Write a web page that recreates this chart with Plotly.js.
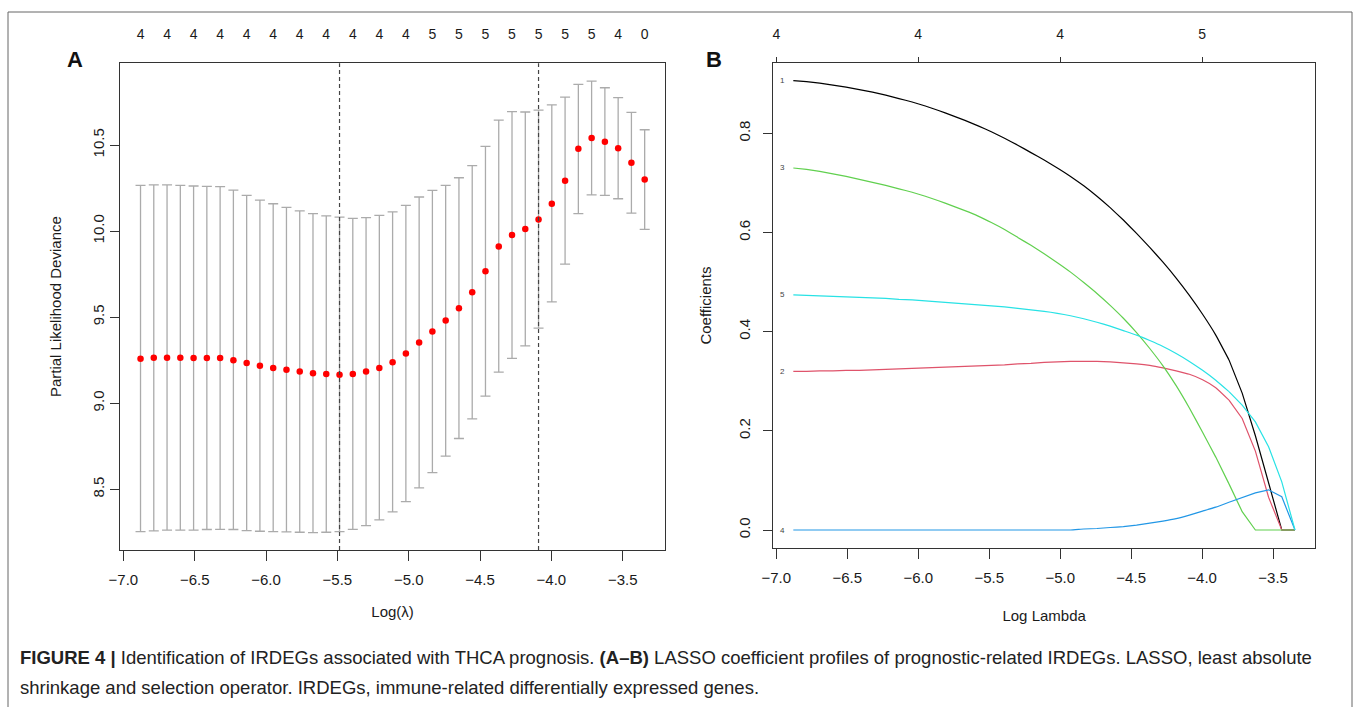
<!DOCTYPE html>
<html><head><meta charset="utf-8">
<script src="https://cdn.plot.ly/plotly-3.0.1.min.js"></script>
<style>html,body{margin:0;padding:0;background:#fff}#chart{width:1355px;height:707px}</style>
</head><body><div id="chart"></div>
<script>
// ---- data ----
const logLambda = [-6.880,-6.787,-6.694,-6.601,-6.508,-6.415,-6.322,-6.229,-6.136,-6.043,-5.950,-5.857,-5.764,-5.671,-5.578,-5.485,-5.392,-5.299,-5.206,-5.113,-5.020,-4.927,-4.834,-4.741,-4.648,-4.555,-4.462,-4.369,-4.276,-4.183,-4.090,-3.997,-3.904,-3.811,-3.718,-3.625,-3.532,-3.439,-3.346];
const cvMean  = [9.258,9.264,9.264,9.264,9.262,9.262,9.262,9.250,9.233,9.217,9.205,9.194,9.184,9.174,9.169,9.165,9.170,9.184,9.205,9.238,9.289,9.353,9.417,9.480,9.551,9.644,9.766,9.911,9.977,10.012,10.068,10.159,10.293,10.479,10.541,10.519,10.481,10.397,10.300];
const cvUpper = [10.266,10.269,10.269,10.266,10.262,10.260,10.258,10.238,10.207,10.180,10.159,10.138,10.118,10.101,10.089,10.081,10.074,10.078,10.091,10.112,10.149,10.198,10.237,10.266,10.310,10.380,10.492,10.645,10.694,10.692,10.703,10.733,10.779,10.853,10.872,10.833,10.775,10.690,10.589];
const cvLower = [8.254,8.258,8.262,8.262,8.263,8.266,8.267,8.266,8.260,8.256,8.254,8.252,8.250,8.248,8.250,8.254,8.267,8.289,8.322,8.368,8.428,8.508,8.597,8.692,8.795,8.909,9.041,9.180,9.260,9.333,9.436,9.589,9.808,10.101,10.211,10.207,10.188,10.105,10.010];
const nonzeroCount = [4,4,4,4,4,4,4,4,4,4,4,4,4,4,4,4,4,4,4,4,4,4,5,5,5,5,5,5,5,5,5,5,5,5,5,4,4,2,0];
const lambdaMinIdx = 15;   // lambda.min
const lambda1seIdx = 30;   // lambda.1se

const geneIds = ['1','2','3','4','5'];
const coef1 = [0.906,0.904,0.901,0.897,0.893,0.888,0.883,0.877,0.870,0.863,0.855,0.846,0.836,0.826,0.815,0.803,0.790,0.776,0.761,0.746,0.730,0.713,0.694,0.673,0.650,0.625,0.598,0.570,0.540,0.508,0.473,0.435,0.393,0.343,0.276,0.190,0.095,0.000,0.000];
const coef2 = [0.320,0.320,0.321,0.321,0.322,0.322,0.323,0.324,0.325,0.326,0.327,0.328,0.329,0.330,0.331,0.332,0.333,0.335,0.336,0.338,0.339,0.340,0.340,0.340,0.339,0.337,0.335,0.332,0.327,0.321,0.314,0.303,0.287,0.262,0.225,0.159,0.066,0.000,0.000];
const coef3 = [0.730,0.727,0.723,0.718,0.713,0.707,0.701,0.695,0.688,0.681,0.673,0.664,0.654,0.644,0.633,0.620,0.606,0.590,0.574,0.557,0.539,0.520,0.499,0.477,0.453,0.427,0.398,0.366,0.331,0.291,0.246,0.197,0.147,0.093,0.037,0.000,0.000,0.000,0.000];
const coef4 = [0.000,0.000,0.000,0.000,0.000,0.000,0.000,0.000,0.000,0.000,0.000,0.000,0.000,0.000,0.000,0.000,0.000,0.000,0.000,0.000,0.000,0.000,0.002,0.003,0.005,0.007,0.010,0.014,0.018,0.023,0.030,0.038,0.046,0.056,0.065,0.075,0.081,0.067,0.000];
const coef5 = [0.474,0.473,0.472,0.471,0.470,0.469,0.468,0.467,0.465,0.464,0.462,0.460,0.458,0.456,0.454,0.452,0.450,0.447,0.444,0.441,0.437,0.432,0.426,0.419,0.411,0.402,0.393,0.382,0.370,0.356,0.340,0.322,0.302,0.279,0.252,0.218,0.168,0.097,0.000];
const coefTopTicks = [-7,-6,-5,-4];
const coefTopLabels = ['4','4','4','5'];

const captionLine1 = '<b>FIGURE 4 |</b> Identification of IRDEGs associated with THCA prognosis. <b>(A–B)</b> LASSO coefficient profiles of prognostic-related IRDEGs. LASSO, least absolute';
const captionLine2 = 'shrinkage and selection operator. IRDEGs, immune-related differentially expressed genes.';

// ---- styling ----
const W = 1355, H = 707;
const FONT = 'Liberation Sans, Arial, sans-serif';
const AX = '#333333';
const px = v => v / W, py = v => 1 - v / H;
const xRange = [-7.021, -3.205];
const SPLIT = 33; // smooth part up to here, straight segments after (kinks near the end)

const colors = ['#000000', '#DF536B', '#61D04F', '#2297E6', '#28E2E5'];
const coefs = [coef1, coef2, coef3, coef4, coef5];

const traces = [];
traces.push({
  x: logLambda, y: cvMean, xaxis: 'x', yaxis: 'y', type: 'scatter', mode: 'markers',
  marker: {color: '#FF0000', size: 6.5},
  error_y: {type: 'data', symmetric: false,
    array: cvUpper.map((u,i)=>u-cvMean[i]), arrayminus: cvLower.map((l,i)=>cvMean[i]-l),
    color: '#ABABAB', thickness: 1.3, width: 5},
  hoverinfo: 'skip', showlegend: false
});
// invisible helper trace for the top axis of panel A
traces.push({x: logLambda, y: logLambda.map(()=>null), xaxis: 'x3', yaxis: 'y', type: 'scatter', mode: 'markers', hoverinfo: 'skip', showlegend: false});
coefs.forEach((c, k) => {
  traces.push({
    x: logLambda.slice(0, SPLIT + 1), y: c.slice(0, SPLIT + 1), xaxis: 'x2', yaxis: 'y2', type: 'scatter', mode: 'lines',
    line: {color: colors[k], width: 1.2, shape: 'spline', smoothing: 0.35}, hoverinfo: 'skip', showlegend: false
  });
  traces.push({
    x: logLambda.slice(SPLIT), y: c.slice(SPLIT), xaxis: 'x2', yaxis: 'y2', type: 'scatter', mode: 'lines',
    line: {color: colors[k], width: 1.2}, hoverinfo: 'skip', showlegend: false
  });
});
traces.push({x: logLambda, y: logLambda.map(()=>null), xaxis: 'x4', yaxis: 'y2', type: 'scatter', mode: 'markers', hoverinfo: 'skip', showlegend: false});

const tickFont = {family: FONT, size: 15, color: '#1a1a1a'};
const baseX = {
  range: xRange, tick0: -7, dtick: 0.5, tickformat: '.1f', ticks: 'outside', ticklen: 10, tickwidth: 1, tickcolor: AX,
  showline: true, linecolor: AX, linewidth: 1, mirror: true, showgrid: false, zeroline: false,
  tickfont: tickFont, ticklabelstandoff: 6
};
const baseY = {
  ticks: 'outside', ticklen: 9, tickwidth: 1, tickcolor: AX, tickangle: -90,
  showline: true, linecolor: AX, linewidth: 1, mirror: true, showgrid: false, zeroline: false,
  tickfont: tickFont, tickformat: '.1f'
};

const evenIdx = logLambda.map((_, i) => i).filter(i => i % 2 === 0);

const layout = {
  width: W, height: H, margin: {l: 0, r: 0, t: 0, b: 0},
  paper_bgcolor: '#fff', plot_bgcolor: '#fff', showlegend: false,
  font: {family: FONT, color: '#1a1a1a'},
  xaxis: Object.assign({}, baseX, {domain: [px(120.4), px(664.8)], anchor: 'y',
    title: {text: 'Log(λ)', font: {family: FONT, size: 15, color: '#1a1a1a'}, standoff: 19}}),
  yaxis: Object.assign({}, baseY, {domain: [py(550), py(63.3)], anchor: 'x', range: [8.147, 10.975], tick0: 8.5, dtick: 0.5,
    title: {text: 'Partial Likelihood Deviance', font: {family: FONT, size: 15, color: '#1a1a1a'}, standoff: 25}}),
  xaxis3: {overlaying: 'x', side: 'top', anchor: 'y', range: xRange, showline: false, showgrid: false, zeroline: false,
    tickmode: 'array', tickvals: evenIdx.map(i => logLambda[i]), ticktext: evenIdx.map(i => String(nonzeroCount[i])),
    ticks: '', tickfont: {family: FONT, size: 14, color: '#1a1a1a'}, ticklabelstandoff: 21},
  xaxis2: Object.assign({}, baseX, {domain: [px(773.3), px(1315)], anchor: 'y2',
    title: {text: 'Log Lambda', font: {family: FONT, size: 15, color: '#1a1a1a'}, standoff: 25}}),
  yaxis2: Object.assign({}, baseY, {domain: [py(548.3), py(62.7)], anchor: 'x2', range: [-0.0369, 0.9423], tick0: 0, dtick: 0.2,
    ticklabelstandoff: 7,
    title: {text: 'Coefficients', font: {family: FONT, size: 15, color: '#1a1a1a'}, standoff: 21}}),
  xaxis4: {overlaying: 'x2', side: 'top', anchor: 'y2', range: xRange, showline: false, showgrid: false, zeroline: false,
    tickmode: 'array', tickvals: coefTopTicks, ticktext: coefTopLabels,
    ticks: 'outside', ticklen: 5, tickcolor: AX, tickfont: {family: FONT, size: 14, color: '#1a1a1a'}, ticklabelstandoff: 12},
  shapes: [
    {type: 'line', xref: 'x', yref: 'y domain', x0: logLambda[lambdaMinIdx], x1: logLambda[lambdaMinIdx], y0: 0, y1: 1,
     line: {color: '#444', width: 1.2, dash: '4px,3px'}},
    {type: 'line', xref: 'x', yref: 'y domain', x0: logLambda[lambda1seIdx], x1: logLambda[lambda1seIdx], y0: 0, y1: 1,
     line: {color: '#444', width: 1.2, dash: '4px,3px'}},
    {type: 'rect', xref: 'paper', yref: 'paper', x0: px(8), x1: px(1352), y0: -0.2, y1: py(12),
     line: {color: '#666', width: 1}}
  ],
  annotations: [
    {text: '<b>A</b>', xref: 'paper', yref: 'paper', x: px(65), y: py(45), showarrow: false, font: {family: FONT, size: 22, color: '#111'}},
    {text: '<b>B</b>', xref: 'paper', yref: 'paper', x: px(714), y: py(45), showarrow: false, font: {family: FONT, size: 22, color: '#111'}},
    {text: captionLine1, xref: 'paper', yref: 'paper', x: px(18), y: py(657), xanchor: 'left', yanchor: 'middle', showarrow: false,
     font: {family: FONT, size: 18.5, color: '#222'}},
    {text: captionLine2, xref: 'paper', yref: 'paper', x: px(18), y: py(687), xanchor: 'left', yanchor: 'middle', showarrow: false,
     font: {family: FONT, size: 18.5, color: '#222'}}
  ].concat(coefs.map((c, k) => ({
    text: geneIds[k], xref: 'x2', yref: 'y2', x: logLambda[0], y: c[0], xanchor: 'right', yanchor: 'middle',
    xshift: -6, showarrow: false, font: {family: FONT, size: 8, color: '#444'}
  })))
};

Plotly.newPlot('chart', traces, layout, {displayModeBar: false, staticPlot: true});
</script>
</body></html>
